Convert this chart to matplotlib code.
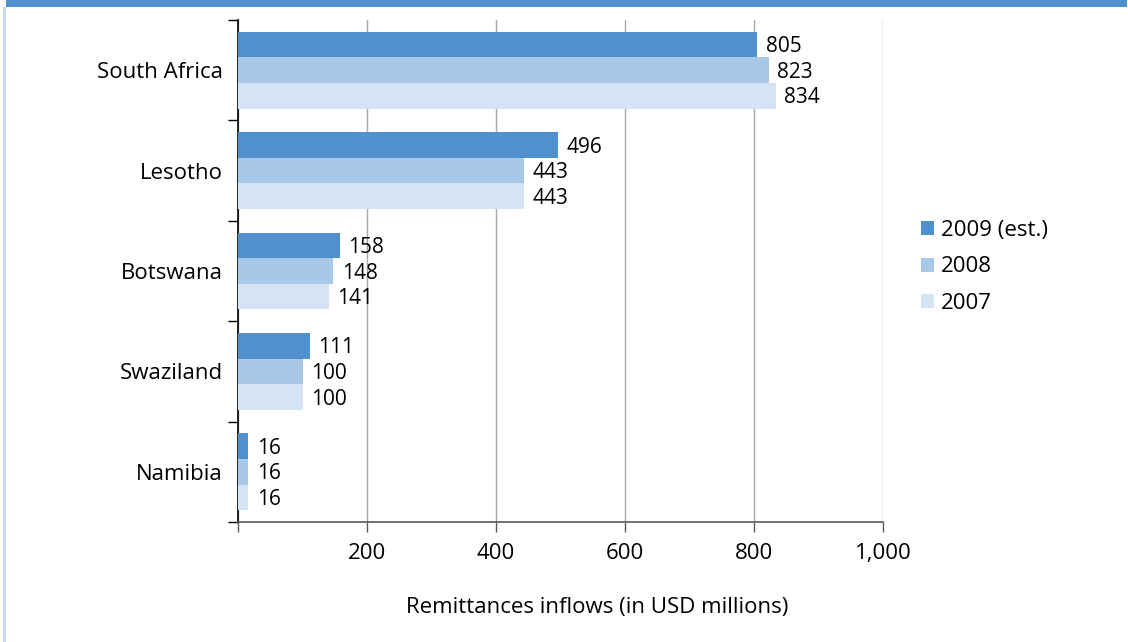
import matplotlib
matplotlib.use("Agg")
import matplotlib.pyplot as plt
import numpy as np
from matplotlib.patches import Rectangle
from matplotlib.ticker import FuncFormatter

countries = ["South Africa", "Lesotho", "Botswana", "Swaziland", "Namibia"]
series_names = ["2009 (est.)", "2008", "2007"]
v2009 = [805, 496, 158, 111, 16]
v2008 = [823, 443, 148, 100, 16]
v2007 = [834, 443, 141, 100, 16]
colors = ["#4F90CD", "#A8C8E7", "#D4E4F4"]
xticks = [0, 200, 400, 600, 800, 1000]

plt.rcParams['font.family'] = ['Open Sans', 'DejaVu Sans']

W, H = 1128, 642
fig = plt.figure(figsize=(W / 100, H / 100), dpi=100)

# frame decorations
fig.patches.append(Rectangle((6 / W, 1 - 7 / H), 1121 / W, 7 / H, transform=fig.transFigure,
                             facecolor="#4F90CD", edgecolor="none"))
fig.patches.append(Rectangle((3 / W, 0), 3 / W, 1 - 7 / H, transform=fig.transFigure,
                             facecolor="#C6D9F1", edgecolor="none"))

ax = fig.add_axes([238 / W, 1 - 522 / H, 645 / W, 502 / H])
y = np.arange(len(countries))
h = 0.255
data = [v2009, v2008, v2007]
for i, (vals, name, c) in enumerate(zip(data, series_names, colors)):
    pos = y + (i - 1) * h
    bars = ax.barh(pos, vals, height=h, color=c, label=name, zorder=3)
    for b, v in zip(bars, vals):
        ax.text(v + 13, b.get_y() + b.get_height() / 2 + 0.02, f"{v}", va="center", ha="left",
                fontsize=15, color="#000000", zorder=4)

ax.set_xlim(0, 1000)
ax.set_ylim(len(countries) - 0.5, -0.5)
ax.set_xticks(xticks)
ax.xaxis.set_major_formatter(FuncFormatter(lambda v, p: "" if v == 0 else f"{int(v):,}"))
ax.grid(axis="x", color="#A6A6A6", linewidth=1, zorder=0)
ax.set_yticks(np.arange(-0.5, len(countries), 1.0))
ax.set_yticklabels([])
ax.set_yticks(y, minor=True)
ax.set_yticklabels(countries, minor=True, fontsize=16)
ax.tick_params(axis="y", which="minor", length=0, pad=11)
ax.tick_params(axis="y", which="major", length=7, width=1, color="#000000")
ax.tick_params(axis="x", length=7, width=1, color="#595959", labelsize=16, pad=8)
for s in ["top", "right"]:
    ax.spines[s].set_visible(False)
ax.spines["left"].set_color("#000000")
ax.spines["bottom"].set_color("#595959")
ax.spines["left"].set_linewidth(1.2)
ax.spines["bottom"].set_linewidth(1.2)

fig.text(597 / W, 1 - 607 / H, "Remittances inflows (in USD millions)", ha="center", va="center",
         fontsize=16)

leg = fig.legend(loc="center left", bbox_to_anchor=(901 / W, 1 - 267 / H), frameon=False,
                 fontsize=16, handlelength=0.6, handleheight=0.6, handletextpad=0.3,
                 labelspacing=0.7)

fig.savefig("out.png", dpi=100)
